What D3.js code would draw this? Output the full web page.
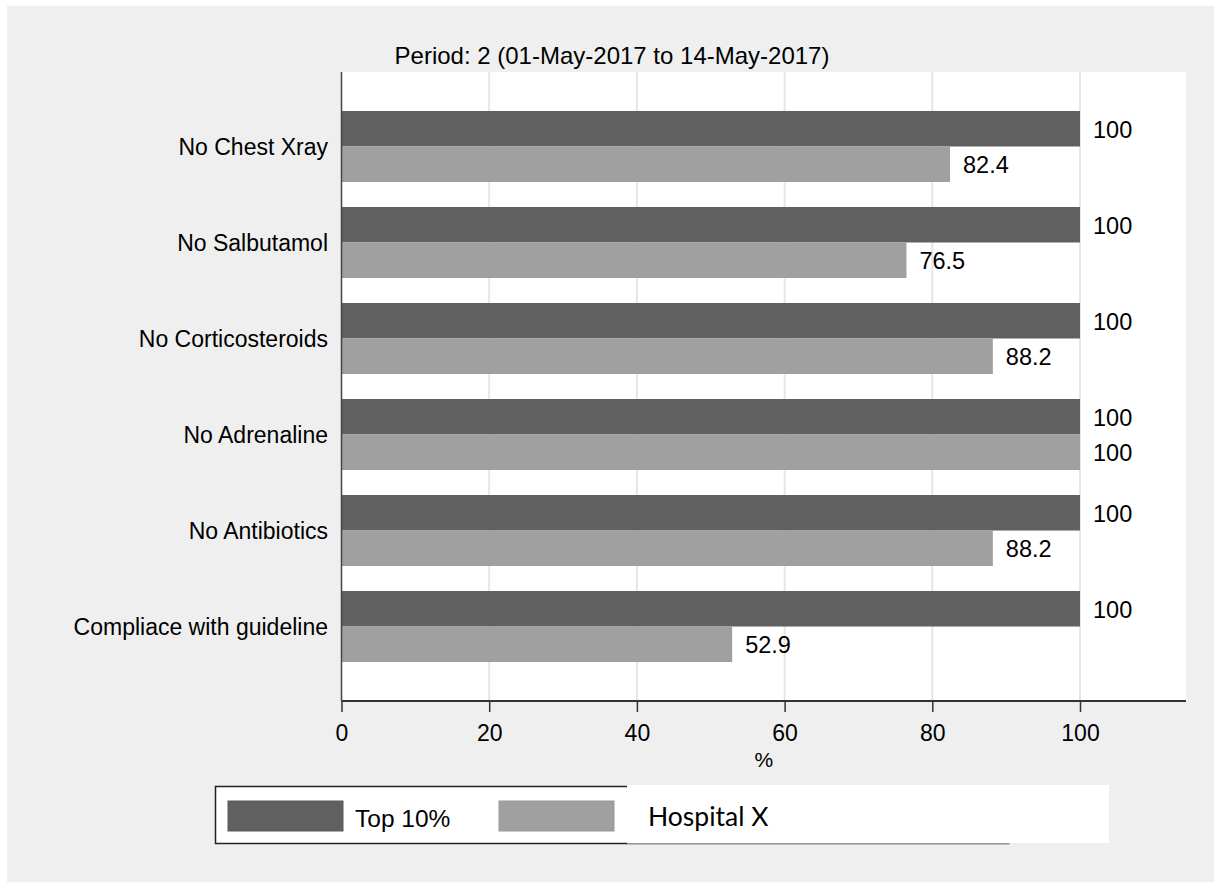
<!DOCTYPE html>
<html>
<head>
<meta charset="utf-8">
<script src="https://cdn.jsdelivr.net/npm/d3@7"></script>
<style>
  body { margin: 0; background: #fff; }
  text { font-family: "Liberation Sans", Arial, sans-serif; fill: #000; }
</style>
</head>
<body>
<div class="chart"></div>
<script>
var categories = ["No Chest Xray", "No Salbutamol", "No Corticosteroids", "No Adrenaline", "No Antibiotics", "Compliace with guideline"];
var top10 = [100, 100, 100, 100, 100, 100];
var hospitalX = [82.4, 76.5, 88.2, 100, 88.2, 52.9];
var xTicks = [0, 20, 40, 60, 80, 100];
var seriesNames = ["Top 10%", "Hospital X"];
var seriesColors = ["#606060", "#a0a0a0"];

var svgWidth = 1214;
var svgHeight = 882;
var plot = {left: 341.5, right: 1186, top: 72, bottom: 701};

var svg = d3.select(".chart")
  .append("svg")
  .attr("width", svgWidth)
  .attr("height", svgHeight);

// grey graph region
svg.append("rect")
  .attr("x", 7).attr("y", 6)
  .attr("width", svgWidth - 7).attr("height", svgHeight - 6)
  .attr("fill", "#efefef");

svg.append("rect")
  .attr("x", plot.left).attr("y", plot.top)
  .attr("width", plot.right - plot.left).attr("height", plot.bottom - plot.top)
  .attr("fill", "#fff");

var xScale = d3.scaleLinear()
  .domain([0, 100])
  .range([plot.left, 1080]);

var yScale = d3.scaleBand()
  .domain(categories)
  .range([plot.top, plot.bottom])
  .paddingInner(0.2604)
  .paddingOuter(0.406);

var subScale = d3.scaleBand()
  .domain([0, 1])
  .range([0, yScale.bandwidth()]);

// gridlines
svg.append("g")
  .selectAll("line")
  .data(xTicks.filter(d => d > 0))
  .enter()
  .append("line")
  .attr("x1", d => xScale(d)).attr("x2", d => xScale(d))
  .attr("y1", plot.top).attr("y2", plot.bottom)
  .attr("stroke", "#e6e6e6")
  .attr("stroke-width", 2);

// bars
var rows = categories.map((c, i) => ({cat: c, vals: [top10[i], hospitalX[i]]}));

var groups = svg.append("g")
  .selectAll("g")
  .data(rows)
  .enter()
  .append("g")
  .attr("transform", d => `translate(0,${yScale(d.cat)})`);

groups.selectAll("rect")
  .data(d => d.vals)
  .enter()
  .append("rect")
  .attr("x", xScale(0))
  .attr("y", (d, i) => subScale(i))
  .attr("width", d => xScale(d) - xScale(0))
  .attr("height", subScale.bandwidth())
  .attr("fill", (d, i) => seriesColors[i]);

groups.selectAll("text.val")
  .data(d => d.vals)
  .enter()
  .append("text")
  .attr("class", "val")
  .attr("x", d => xScale(d) + 13)
  .attr("y", (d, i) => subScale(i) + subScale.bandwidth() / 2)
  .attr("dy", "0.38em")
  .style("font-size", "23.5px")
  .text(d => d3.format(".3~f")(d));

// category labels
svg.append("g")
  .selectAll("text")
  .data(categories)
  .enter()
  .append("text")
  .attr("x", 328)
  .attr("y", d => yScale(d) + yScale.bandwidth() / 2)
  .attr("dy", "0.38em")
  .attr("text-anchor", "end")
  .style("font-size", "23px")
  .text(d => d);

// y axis line
svg.append("line")
  .attr("x1", plot.left).attr("x2", plot.left)
  .attr("y1", plot.top).attr("y2", plot.bottom)
  .attr("stroke", "#444").attr("stroke-width", 1.5);

// x axis
var bottomAxis = d3.axisBottom(xScale)
  .tickValues(xTicks)
  .tickSize(11)
  .tickPadding(13)
  .tickSizeOuter(0);

var xAxisG = svg.append("g")
  .attr("transform", `translate(0,${plot.bottom})`)
  .call(bottomAxis);
xAxisG.select(".domain").remove();
xAxisG.selectAll(".tick line").attr("stroke", "#333").attr("stroke-width", 1.5);
xAxisG.selectAll(".tick text")
  .style("font-size", "23px")
  .style("font-family", "'Liberation Sans', Arial, sans-serif")
  .attr("fill", "#000");
xAxisG.append("line")
  .attr("x1", plot.left).attr("x2", plot.right)
  .attr("y1", 0).attr("y2", 0)
  .attr("stroke", "#333").attr("stroke-width", 2);

svg.append("text")
  .attr("x", (plot.left + plot.right) / 2)
  .attr("y", 767)
  .attr("text-anchor", "middle")
  .style("font-size", "21px")
  .text("%");

// title
svg.append("text")
  .attr("x", 612)
  .attr("y", 64)
  .attr("text-anchor", "middle")
  .style("font-size", "24px")
  .text("Period: 2 (01-May-2017 to 14-May-2017)");

// legend
var legend = svg.append("g");
legend.append("rect")
  .attr("x", 215.5).attr("y", 786.5)
  .attr("width", 793).attr("height", 57)
  .attr("fill", "#fff")
  .attr("stroke", "#222").attr("stroke-width", 1.5);
legend.append("line")
  .attr("x1", 627).attr("x2", 1009)
  .attr("y1", 844).attr("y2", 844)
  .attr("stroke", "#bbb").attr("stroke-width", 1.5);

var legendX = [228, 499];
legend.selectAll("rect.sw")
  .data(seriesNames)
  .enter()
  .append("rect")
  .attr("class", "sw")
  .attr("x", (d, i) => legendX[i])
  .attr("y", 801)
  .attr("width", 115)
  .attr("height", 30)
  .attr("fill", (d, i) => seriesColors[i])
  .attr("stroke", (d, i) => i === 0 ? "#5a5a5a" : "#999")
  .attr("stroke-width", 1);

legend.append("text")
  .attr("x", 355)
  .attr("y", 818)
  .attr("dy", "0.36em")
  .style("font-size", "24.5px")
  .text(seriesNames[0]);

// pasted-over label box
legend.append("rect")
  .attr("x", 627).attr("y", 785)
  .attr("width", 482).attr("height", 58)
  .attr("fill", "#fff");
legend.append("text")
  .attr("x", 648)
  .attr("y", 816)
  .attr("dy", "0.36em")
  .style("font-family", "Lato, 'Open Sans', sans-serif")
  .style("font-size", "26.5px")
  .text(seriesNames[1]);
</script>
</body>
</html>
